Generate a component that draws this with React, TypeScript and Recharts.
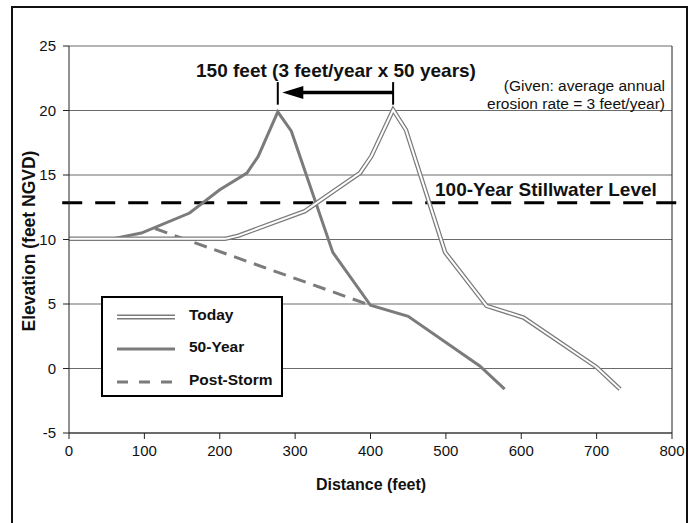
import React from "react";
import {
  LineChart,
  Line,
  XAxis,
  YAxis,
  CartesianGrid,
  ReferenceLine,
} from "recharts";

// Beach/dune profiles (distance ft, elevation ft NGVD)
const todayDist = [0, 207, 225, 313, 355, 386, 401, 430, 447, 499, 554, 603, 700, 731];
const todayElev = [10.05, 10.05, 10.3, 12.2, 13.9, 15.15, 16.44, 20.05, 18.5, 9.0, 4.85, 3.95, 0.1, -1.6];

const fiftyDist = [57, 96, 160, 200, 236, 251, 277, 295, 350, 400, 450, 545, 578];
const fiftyElev = [10.05, 10.5, 12.05, 13.86, 15.15, 16.44, 19.9, 18.4, 9.0, 4.9, 4.05, 0.2, -1.6];

const stormDist = [114, 400];
const stormElev = [10.85, 4.9];

const xTicks = [0, 100, 200, 300, 400, 500, 600, 700, 800];
const yTicks = [-5, 0, 5, 10, 15, 20, 25];

const stillwater = 12.85;
const erosionFrom = 430;
const erosionTo = 277;

const toRows = (xs: number[], ys: number[]) => xs.map((x, i) => ({ x, y: ys[i] }));

const today = toRows(todayDist, todayElev);
const fifty = toRows(fiftyDist, fiftyElev);
const storm = toRows(stormDist, stormElev);

const FONT = "'Liberation Sans', Arial, Helvetica, sans-serif";
const GRAY = "#7b7b7b";

const ArrowShape = (p: any) => {
  const left = Math.min(p.x1, p.x2);
  const right = Math.max(p.x1, p.x2);
  const y = p.y1;
  return (
    <g>
      <line x1={left + 18} y1={y} x2={right} y2={y} stroke="#000" strokeWidth={3.5} />
      <polygon points={`${left},${y} ${left + 21},${y - 6.5} ${left + 21},${y + 6.5}`} fill="#000" />
    </g>
  );
};

const abs = (extra: React.CSSProperties): React.CSSProperties => ({
  position: "absolute",
  fontFamily: FONT,
  color: "#111",
  whiteSpace: "nowrap",
  ...extra,
});

function LegendBox() {
  const rows = [
    { label: "Today", kind: "double" },
    { label: "50-Year", kind: "solid" },
    { label: "Post-Storm", kind: "dash" },
  ];
  const centers = [315, 347, 380];
  return (
    <div
      style={{
        position: "absolute",
        left: 101,
        top: 296,
        width: 182,
        height: 101,
        boxSizing: "border-box",
        border: "2.5px solid #000",
        background: "#fff",
      }}
    >
      {rows.map((r, i) => (
        <React.Fragment key={r.label}>
          <svg
            width={60}
            height={10}
            style={{ position: "absolute", left: 14, top: centers[i] - 296 - 5 }}
          >
            {r.kind === "double" && (
              <>
                <line x1={0} y1={5} x2={58} y2={5} stroke={GRAY} strokeWidth={5} />
                <line x1={0} y1={5} x2={58} y2={5} stroke="#fff" strokeWidth={2} />
              </>
            )}
            {r.kind === "solid" && (
              <line x1={0} y1={5} x2={58} y2={5} stroke={GRAY} strokeWidth={3} />
            )}
            {r.kind === "dash" && (
              <line x1={0} y1={5} x2={58} y2={5} stroke={GRAY} strokeWidth={3} strokeDasharray="11 11" />
            )}
          </svg>
          <div
            style={abs({
              left: 86,
              top: centers[i] - 296 - 11,
              lineHeight: "18px",
              fontSize: 15.5,
              fontWeight: 700,
            })}
          >
            {r.label}
          </div>
        </React.Fragment>
      ))}
    </div>
  );
}

export default function App() {
  return (
    <div
      style={{
        position: "absolute",
        left: 0,
        top: 0,
        width: 694,
        height: 523,
        overflow: "hidden",
        background: "#fff",
      }}
    >
      <div
        style={{
          position: "absolute",
          left: 11,
          top: 6,
          width: 677,
          height: 540,
          boxSizing: "border-box",
          border: "2px solid #111",
        }}
      />
      <div style={{ position: "absolute", left: 0, top: 0 }}>
        <LineChart
          width={694}
          height={523}
          margin={{ top: 46, right: 22, bottom: 60, left: 9 }}
        >
          <CartesianGrid vertical={false} stroke="#6a6a6a" strokeWidth={1} />
          <XAxis
            dataKey="x"
            type="number"
            domain={[0, 800]}
            ticks={xTicks}
            allowDataOverflow
            height={30}
            stroke="#222"
            tickSize={6}
            tickMargin={6}
            tick={{ fill: "#111", fontSize: 15, fontFamily: FONT }}
          />
          <YAxis
            dataKey="y"
            type="number"
            domain={[-5, 25]}
            ticks={yTicks}
            width={60}
            stroke="#222"
            tickSize={6}
            tickMargin={7}
            tick={{ fill: "#111", fontSize: 15, fontFamily: FONT }}
          />
          <ReferenceLine x={800} stroke="#222" />
          <ReferenceLine
            segment={[
              { x: -9, y: stillwater },
              { x: 807, y: stillwater },
            ]}
            ifOverflow="visible"
            stroke="#000"
            strokeWidth={3}
            strokeDasharray="20 13"
          />
          <Line
            data={storm}
            dataKey="y"
            type="linear"
            stroke={GRAY}
            strokeWidth={3}
            strokeDasharray="13 8"
            dot={false}
            isAnimationActive={false}
          />
          <Line
            data={fifty}
            dataKey="y"
            type="linear"
            stroke={GRAY}
            strokeWidth={3}
            dot={false}
            isAnimationActive={false}
          />
          <Line
            data={today}
            dataKey="y"
            type="linear"
            stroke={GRAY}
            strokeWidth={4.5}
            dot={false}
            isAnimationActive={false}
          />
          <Line
            data={today}
            dataKey="y"
            type="linear"
            stroke="#fff"
            strokeWidth={2}
            dot={false}
            isAnimationActive={false}
          />
          <ReferenceLine
            segment={[
              { x: erosionTo, y: 20.45 },
              { x: erosionTo, y: 22.2 },
            ]}
            ifOverflow="visible"
            stroke="#000"
            strokeWidth={2}
          />
          <ReferenceLine
            segment={[
              { x: erosionFrom, y: 20.45 },
              { x: erosionFrom, y: 22.2 },
            ]}
            ifOverflow="visible"
            stroke="#000"
            strokeWidth={2}
          />
          <ReferenceLine
            segment={[
              { x: erosionTo + 6, y: 21.39 },
              { x: erosionFrom, y: 21.39 },
            ]}
            ifOverflow="visible"
            shape={ArrowShape}
          />
        </LineChart>
      </div>

      <div
        style={abs({
          left: 136,
          top: 60,
          width: 400,
          textAlign: "center",
          fontSize: 19,
          fontWeight: 700,
          lineHeight: "22px",
        })}
      >
        150 feet (3 feet/year x 50 years)
      </div>
      <div
        style={abs({
          right: 29,
          top: 77,
          textAlign: "right",
          fontSize: 15.5,
          lineHeight: "18px",
        })}
      >
        (Given: average annual
        <br />
        erosion rate = 3 feet/year)
      </div>
      <div
        style={abs({
          left: 435,
          top: 179,
          fontSize: 19,
          fontWeight: 700,
          lineHeight: "22px",
        })}
      >
        100-Year Stillwater Level
      </div>
      <div
        style={abs({
          left: 29 - 150,
          top: 241 - 10,
          width: 300,
          textAlign: "center",
          fontSize: 17.5,
          fontWeight: 700,
          lineHeight: "20px",
          transform: "rotate(-90deg)",
        })}
      >
        Elevation (feet NGVD)
      </div>
      <div
        style={abs({
          left: 371 - 150,
          top: 475,
          width: 300,
          textAlign: "center",
          fontSize: 16,
          fontWeight: 700,
          lineHeight: "20px",
        })}
      >
        Distance (feet)
      </div>
      <LegendBox />
    </div>
  );
}
